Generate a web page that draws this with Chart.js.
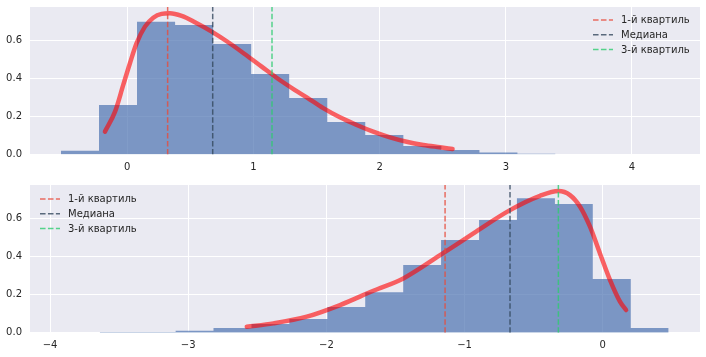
<!DOCTYPE html>
<html>
<head>
<meta charset="utf-8">
<script src="https://cdn.jsdelivr.net/npm/chart.js@4.4.1/dist/chart.umd.min.js"></script>
<style>
  html, body { margin: 0; padding: 0; background: #ffffff; }
  canvas { display: block; }
</style>
</head>
<body>
<canvas id="top" width="706" height="175"></canvas>
<canvas id="bottom" width="706" height="182"></canvas>
<script>
// ---------- data ----------
const topBinEdges = [-0.526, -0.224, 0.077, 0.379, 0.680, 0.982, 1.283, 1.585, 1.886, 2.188, 2.489, 2.791, 3.092, 3.394];
const topBinHeights = [0.020, 0.260, 0.697, 0.680, 0.580, 0.423, 0.297, 0.171, 0.102, 0.045, 0.024, 0.010, 0.004];
const topCurveX = [-0.177, -0.097, -0.032, 0.021, 0.074, 0.140, 0.206, 0.272, 0.338, 0.431, 0.536, 0.669, 0.800, 0.933, 1.065, 1.197, 1.329, 1.422, 1.553, 1.685, 1.818, 1.949, 2.082, 2.214, 2.346, 2.478, 2.578];
const topCurveY = [0.120, 0.225, 0.365, 0.479, 0.584, 0.671, 0.718, 0.738, 0.741, 0.727, 0.694, 0.645, 0.589, 0.526, 0.461, 0.396, 0.338, 0.300, 0.243, 0.195, 0.155, 0.120, 0.090, 0.067, 0.050, 0.038, 0.029];
const topQuartiles = [0.320, 0.677, 1.147];

const botBinEdges = [-3.640, -3.366, -3.091, -2.817, -2.542, -2.268, -1.993, -1.719, -1.444, -1.170, -0.895, -0.621, -0.346, -0.072, 0.203, 0.477];
const botBinHeights = [0.004, 0.004, 0.010, 0.025, 0.045, 0.072, 0.135, 0.212, 0.355, 0.486, 0.591, 0.706, 0.675, 0.282, 0.025];
const botCurveX = [-2.576, -2.383, -2.142, -1.901, -1.660, -1.443, -1.177, -0.936, -0.671, -0.454, -0.321, -0.237, -0.164, -0.092, -0.020, 0.053, 0.125, 0.169];
const botCurveY = [0.031, 0.049, 0.084, 0.145, 0.220, 0.285, 0.407, 0.521, 0.643, 0.718, 0.743, 0.722, 0.661, 0.556, 0.416, 0.276, 0.163, 0.119];
const botQuartiles = [-1.141, -0.671, -0.321];

const legendLabels = ['1-й квартиль', 'Медиана', '3-й квартиль'];
const topXTicks = [0, 1, 2, 3, 4];
const botXTicks = [-4, -3, -2, -1, 0];
const yTicks = [0, 0.2, 0.4, 0.6];

// ---------- styles ----------
const quartileColors = ['rgba(231,76,60,0.8)', 'rgba(52,73,94,0.8)', 'rgba(46,204,113,0.8)'];
const histColor = 'rgba(76,114,176,0.7)';
const curveColor = 'rgba(255,0,0,0.6)';
const textColor = '#262626';
const FONT = 'DejaVu Sans';
const dash = [5.55, 2.4];

function histPoints(edges, heights) {
  const pts = heights.map((h, i) => ({x: edges[i], y: h}));
  pts.push({x: edges[edges.length - 1], y: heights[heights.length - 1]});
  return pts;
}
function zipPts(xs, ys) { return xs.map((x, i) => ({x: x, y: ys[i]})); }

function noPad(s) { s.paddingTop = 0; s.paddingBottom = 0; s.paddingLeft = 0; s.paddingRight = 0; }

const insideLegend = {
  id: 'insideLegend',
  afterDraw(chart, args, opts) {
    const ctx = chart.ctx;
    const ca = chart.chartArea;
    ctx.save();
    ctx.font = '10px "' + FONT + '"';
    ctx.textBaseline = 'middle';
    ctx.textAlign = 'left';
    const x0 = opts.side === 'right' ? ca.right - 107 : ca.left + 10;
    legendLabels.forEach((lab, i) => {
      const y = ca.top + opts.firstRow + i * opts.rowGap;
      ctx.strokeStyle = quartileColors[i];
      ctx.lineWidth = 1.5;
      ctx.setLineDash(dash);
      ctx.beginPath();
      ctx.moveTo(x0, y);
      ctx.lineTo(x0 + 20, y);
      ctx.stroke();
      ctx.setLineDash([]);
      ctx.fillStyle = textColor;
      ctx.fillText(lab, x0 + 28, y + 0.5);
    });
    ctx.restore();
  }
};

function makeChart(id, cfg) {
  const qLines = cfg.quartiles.map((q, i) => ({
    type: 'line',
    data: [{x: q, y: 0}, {x: q, y: cfg.ymax}],
    borderColor: quartileColors[i],
    borderWidth: 1.5,
    borderDash: dash,
    pointRadius: 0,
    fill: false,
    order: 0
  }));
  return new Chart(document.getElementById(id), {
    type: 'line',
    data: {
      datasets: [
        ...qLines,
        {
          data: zipPts(cfg.curveX, cfg.curveY),
          borderColor: curveColor,
          borderWidth: 4.5,
          borderCapStyle: 'round',
          cubicInterpolationMode: 'monotone',
          pointRadius: 0,
          fill: false,
          order: 1
        },
        {
          data: histPoints(cfg.edges, cfg.heights),
          stepped: 'before',
          borderColor: 'rgba(0,0,0,0)',
          borderWidth: 0,
          backgroundColor: histColor,
          fill: 'origin',
          pointRadius: 0,
          order: 2
        }
      ]
    },
    options: {
      responsive: false,
      animation: false,
      devicePixelRatio: 1,
      layout: { padding: { top: cfg.padTop, right: 6, left: 0, bottom: 0 } },
      plugins: {
        legend: { display: false },
        tooltip: { enabled: false },
        insideLegend: { side: cfg.legendSide, firstRow: cfg.legendFirstRow, rowGap: 14.8 }
      },
      scales: {
        x: {
          type: 'linear',
          min: cfg.xmin,
          max: cfg.xmax,
          afterBuildTicks: s => { s.ticks = cfg.xTicks.map(v => ({value: v})); },
          afterFit: s => { s.height = cfg.xAxisH; noPad(s); },
          grid: { color: '#ffffff', lineWidth: 1, drawTicks: false },
          border: { display: false },
          ticks: {
            padding: 6.5,
            color: textColor,
            font: { family: FONT, size: 10 },
            maxRotation: 0,
            autoSkip: false,
            callback: v => (v < 0 ? '\u2212' + Math.abs(v) : String(v))
          }
        },
        y: {
          type: 'linear',
          min: 0,
          max: cfg.ymax,
          afterBuildTicks: s => { s.ticks = yTicks.map(v => ({value: v})); },
          afterFit: s => { s.width = 30; noPad(s); },
          grid: { color: '#ffffff', lineWidth: 1, drawTicks: false },
          border: { display: false },
          ticks: {
            padding: 8,
            color: textColor,
            font: { family: FONT, size: 10 },
            callback: v => v.toFixed(1)
          }
        }
      }
    },
    plugins: [
      {
        id: 'bg',
        beforeDraw(chart) {
          const ca = chart.chartArea;
          chart.ctx.save();
          chart.ctx.fillStyle = '#EAEAF2';
          chart.ctx.fillRect(ca.left, ca.top, ca.right - ca.left, ca.bottom - ca.top);
          chart.ctx.restore();
        }
      },
      insideLegend
    ]
  });
}

makeChart('top', {
  edges: topBinEdges, heights: topBinHeights,
  curveX: topCurveX, curveY: topCurveY,
  quartiles: topQuartiles,
  xmin: -0.771, xmax: 4.539, ymax: 0.774,
  xTicks: topXTicks,
  padTop: 7, xAxisH: 20.5,
  legendSide: 'right', legendFirstRow: 13
});

makeChart('bottom', {
  edges: botBinEdges, heights: botBinHeights,
  curveX: botCurveX, curveY: botCurveY,
  quartiles: botQuartiles,
  xmin: -4.145, xmax: 0.704, ymax: 0.775,
  xTicks: botXTicks,
  padTop: 10, xAxisH: 24.3,
  legendSide: 'left', legendFirstRow: 14
});
</script>
</body>
</html>
